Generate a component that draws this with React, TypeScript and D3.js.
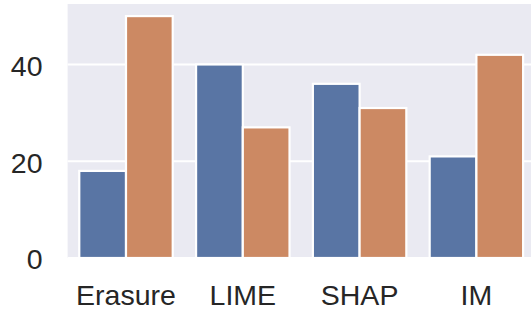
import React from "react";
import * as d3 from "d3";

const categories = ["Erasure", "LIME", "SHAP", "IM"];
const series = ["A", "B"];
const valuesA = [18, 40, 36, 21];
const valuesB = [50, 27, 31, 42];
const yTicks = [0, 20, 40];
const colors = ["#5975A4", "#CC8963"];

export default function App() {
  const W = 531, H = 311;
  const left = 67.6, right = 67.6 + 467.2, top = 4, bottom = 258;
  const x = d3.scaleBand<string>().domain(categories).range([left, right]).padding(0);
  const bw = x.bandwidth();
  const xi = d3.scaleBand<string>().domain(series).range([0.1 * bw, 0.9 * bw]).padding(0);
  const y = d3.scaleLinear().domain([0, 52.5]).range([bottom, top]);
  const data = [valuesA, valuesB];
  const font = "'Liberation Sans', Arial, sans-serif";
  return (
    <svg width={W} height={H} style={{ position: "absolute", left: 0, top: 0 }}>
      <defs>
        <clipPath id="plot">
          <rect x={left} y={top} width={right - left} height={bottom - top} />
        </clipPath>
      </defs>
      <rect x={left} y={top} width={right - left} height={bottom - top} fill="#EAEAF2" />
      {yTicks.map((t) => (
        <line key={t} x1={left} x2={right} y1={y(t)} y2={y(t)} stroke="#fff" strokeWidth={2} />
      ))}
      <g clipPath="url(#plot)">
        {series.map((s, si) =>
          categories.map((c, ci) => (
            <rect
              key={s + c}
              x={(x(c) as number) + (xi(s) as number)}
              y={y(data[si][ci])}
              width={xi.bandwidth()}
              height={y(0) - y(data[si][ci])}
              fill={colors[si]}
              stroke="#fff"
              strokeWidth={2.2}
            />
          ))
        )}
      </g>
      {yTicks.map((t) => (
        <text key={t} x={42.5} y={y(t) + 1.5} dy="0.35em" textAnchor="end" fontFamily={font} fontSize={28.5} fill="#262626">
          {t}
        </text>
      ))}
      {categories.map((c) => (
        <text key={c} x={(x(c) as number) + bw / 2} y={305} textAnchor="middle" fontFamily={font} fontSize={28.5} fill="#262626">
          {c}
        </text>
      ))}
    </svg>
  );
}
